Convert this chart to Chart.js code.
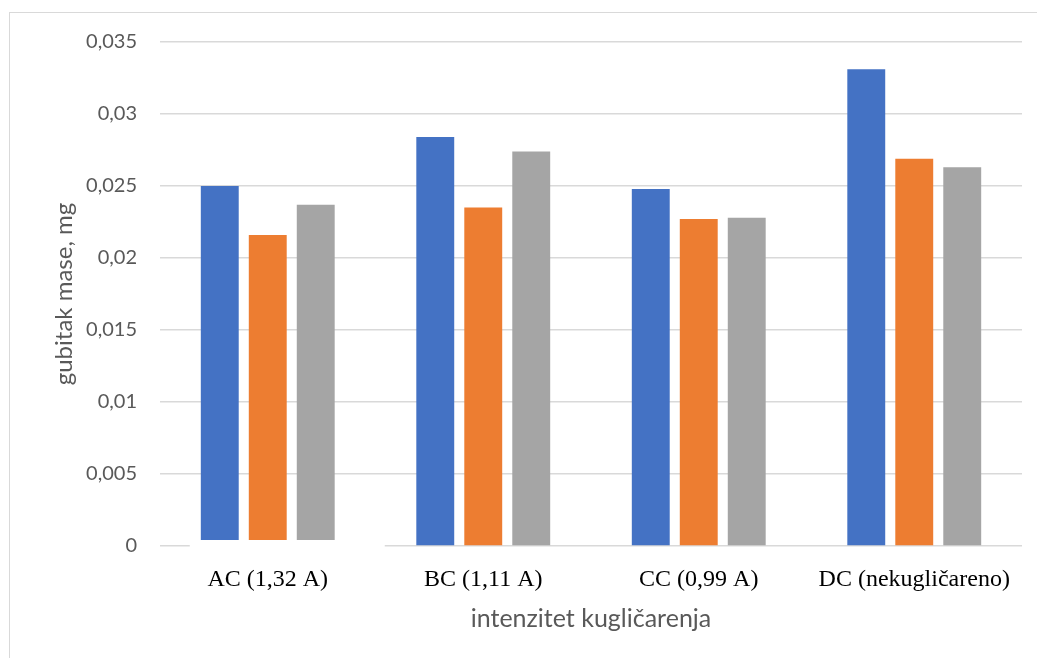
<!DOCTYPE html>
<html>
<head>
<meta charset="utf-8">
<script src="https://cdn.jsdelivr.net/npm/chart.js@4/dist/chart.umd.min.js"></script>
<style>
  html, body { margin: 0; padding: 0; background: #fff; }
  #wrap { position: relative; width: 1037px; height: 658px; }
  #frame { position: absolute; left: 9px; top: 12px; right: 0; bottom: 0;
           border-left: 1.5px solid #d9d9d9; border-top: 1.5px solid #d9d9d9; }
</style>
</head>
<body>
<div id="wrap">
  <div id="frame"></div>
  <canvas id="lossChart" width="1037" height="658"></canvas>
</div>
<script>
// ---------------- data
const categories = ['AC (1,32 A)', 'BC (1,11 A)', 'CC (0,99 A)', 'DC (nekugličareno)'];
const series1 = [0.0250, 0.0284, 0.0248, 0.0331];
const series2 = [0.0216, 0.0235, 0.0227, 0.0269];
const series3 = [0.0237, 0.0274, 0.0228, 0.0263];
const yTicks = [0, 0.005, 0.01, 0.015, 0.02, 0.025, 0.03, 0.035];
const yTickLabels = ['0', '0,005', '0,01', '0,015', '0,02', '0,025', '0,03', '0,035'];

// white patch over the first group's baseline (as in the source image)
const patchPlugin = {
  id: 'patch',
  afterDatasetsDraw(chart) {
    const x = chart.scales.x, y = chart.scales.y;
    const ctx = chart.ctx;
    const cx = x.getPixelForValue(0);
    const y0 = y.getPixelForValue(0);
    ctx.save();
    ctx.fillStyle = '#ffffff';
    ctx.fillRect(cx - 78, y0 - 6, 195, 12);
    ctx.restore();
  }
};

document.addEventListener('DOMContentLoaded', function () {
  const ctx = document.getElementById('lossChart').getContext('2d');
  const bar = (label, data, color) => ({
    label: label,
    data: data,
    backgroundColor: color,
    borderWidth: 0,
    categoryPercentage: 0.668,
    barPercentage: 0.79
  });

  new Chart(ctx, {
    type: 'bar',
    data: {
      labels: categories,
      datasets: [
        bar('Serija 1', series1, '#4472C4'),
        bar('Serija 2', series2, '#ED7D31'),
        bar('Serija 3', series3, '#A5A5A5')
      ]
    },
    options: {
      responsive: false,
      animation: false,
      layout: { padding: { top: 42, right: 15, left: 0, bottom: 0 } },
      plugins: {
        legend: { display: false },
        tooltip: { enabled: false }
      },
      scales: {
        x: {
          grid: { display: false },
          border: { display: false },
          ticks: {
            color: '#000',
            padding: 11,
            maxRotation: 0,
            font: { family: '"Liberation Serif", "Times New Roman", serif', size: 24 }
          },
          title: {
            display: true,
            text: 'intenzitet kugličarenja',
            color: '#595959',
            padding: { top: 0, bottom: 24 },
            font: { family: 'Lato, "Open Sans", sans-serif', size: 25 }
          },
          afterFit(scale) { scale.height = 112; }
        },
        y: {
          min: 0,
          max: 0.035,
          grid: { color: '#d9d9d9', lineWidth: 1.5, drawTicks: false },
          border: { display: false },
          afterBuildTicks(scale) { scale.ticks = yTicks.map(v => ({ value: v })); },
          ticks: {
            color: '#595959',
            padding: 23,
            font: { family: 'Lato, "Open Sans", sans-serif', size: 20 },
            callback: value => yTickLabels[yTicks.indexOf(value)] ?? ''
          },
          title: {
            display: true,
            text: 'gubitak mase, mg',
            color: '#595959',
            padding: { top: 50, bottom: 0 },
            font: { family: 'Lato, "Open Sans", sans-serif', size: 24 }
          },
          afterFit(scale) { scale.width = 160; }
        }
      }
    },
    plugins: [patchPlugin]
  });
});
</script>
</body>
</html>
